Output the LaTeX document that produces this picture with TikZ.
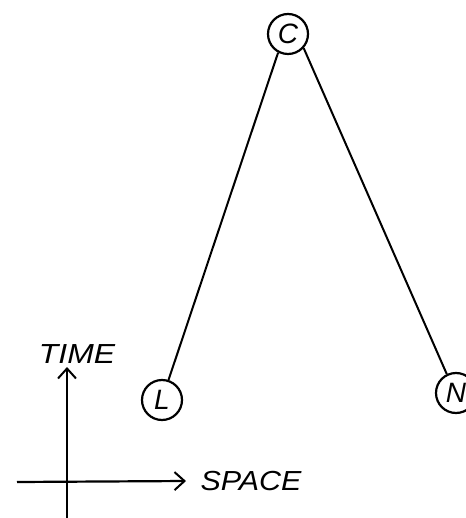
\documentclass[tikz,border=0pt]{standalone}
\usepackage{fontspec}
\setmainfont{Liberation Sans}
\usetikzlibrary{arrows.meta}
\tikzset{
  ev/.style={draw, circle, line width=2.2pt, minimum size=40pt, inner sep=0pt,
    font=\fontsize{28}{28}\selectfont\itshape},
  wl/.style={line width=2pt},
  axis/.style={line width=2.2pt, -{Straight Barb[length=10pt,width=18pt,line width=2pt]}},
  lbl/.style={font=\fontsize{29}{29}\selectfont\itshape, inner sep=0pt}
}
\begin{document}
\begin{tikzpicture}[x=1pt,y=-1pt]
\useasboundingbox (0,0) rectangle (465,518);
\fill[white] (0,0) rectangle (465,518);
\node[ev] (C) at (288,34) {C};
\node[ev] (L) at (162,400) {L};
\node[ev] (N) at (456,393) {N};
\draw[wl] (C.242) -- (L.72);
\draw[wl] (C.-42) -- (N.116);
\coordinate (tb) at (67,518);
\coordinate (tt) at (67,367);
\coordinate (sl) at (17,482);
\coordinate (sr) at (186,481);
\draw[axis] (tb) -- (tt);
\draw[axis] (sl) -- (sr);
\node[lbl] (time) at (77,354) {\scalebox{1.1}[0.95]{TIME}};
\node[lbl] (space) at (251,481) {\scalebox{1.05}[0.95]{SPACE}};
\end{tikzpicture}
\end{document}
